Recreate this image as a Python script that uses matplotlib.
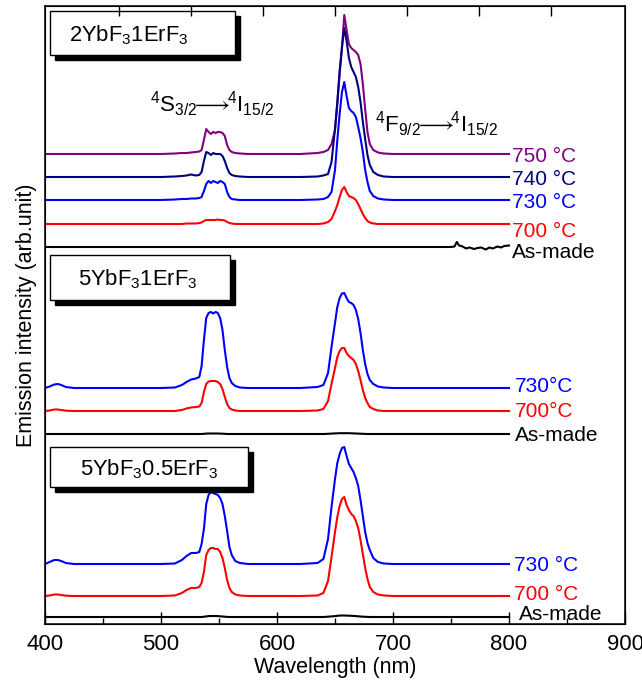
import matplotlib
matplotlib.use('Agg')
import matplotlib.pyplot as plt
from matplotlib.patches import Rectangle
from matplotlib.ticker import MultipleLocator

plt.rcParams['font.family'] = ['Liberation Sans', 'DejaVu Sans']
plt.rcParams['mathtext.fontset'] = 'custom'
plt.rcParams['mathtext.rm'] = 'Liberation Sans'
plt.rcParams['mathtext.it'] = 'Liberation Sans:italic'
plt.rcParams['mathtext.bf'] = 'Liberation Sans:bold'

# wavelength grid (nm) shared by the annealed spectra
wl = [400, 404, 408, 411, 414, 418, 425,
      500, 512, 518, 522, 526, 530, 533,
      535, 537, 539, 541, 543, 545, 547, 549, 551, 553, 555, 557, 559, 561,
      564, 568, 575, 620, 635, 640,
      644, 647, 650, 652, 654, 656, 658, 660, 662, 664, 666, 668, 670, 672, 674, 676, 678, 680,
      683, 687, 692, 700, 750, 800]

# ---- 2YbF3 1ErF3 ----
p1_750 = [0, 0, 0, 0, 0, 0, 0,
          0, 0.5, 1, 1, 1.5, 2, 2.5,
          4, 14, 25, 22, 20, 22, 21, 22, 22, 21, 18, 9, 4, 2,
          1, 0.5, 0, 0, 1, 2,
          4, 10, 24, 50, 80, 106, 139, 124, 110, 106, 104, 102, 99, 90, 70, 45, 22, 10,
          4, 1.5, 0.5, 0, 0, 0]
p1_740 = [0, 0, 0, 0, 0, 0, 0,
          0, 0.5, 1, 1.5, 2.5, 1.5, 2,
          5, 16, 25, 24, 22, 24, 23, 23, 23, 21, 16, 9, 4, 2,
          1, 0.5, 0, 0, 0.5, 1.5,
          3, 15, 48, 75, 106, 130, 149, 136, 119, 110, 105, 100, 90, 75, 55, 38, 22, 12,
          5, 2, 0.5, 0, 0, 0]
p1_730 = [0, 0, 0, 0, 0, 0, 0,
          0, 0.5, 1, 1, 1.5, 1.5, 2,
          3, 9, 16, 19, 17, 19, 18, 17, 19, 18, 16, 8, 3, 1,
          0.5, 0, 0, 0, 0.5, 1,
          3, 8, 30, 60, 86, 108, 118, 104, 92, 89, 87, 83, 73, 62, 48, 30, 18, 9,
          4, 1.5, 0.5, 0, 0, 0]
p1_700 = [0, 0, 0, 0, 0, 0, 0,
          0, 0, 0, 0.5, 0.5, 0.5, 1,
          1.5, 3, 4, 4, 4, 4, 4, 4.5, 4, 4, 3.5, 2, 1, 0.5,
          0, 0, 0, 0, 0, 0.5,
          2, 5, 13, 19, 27, 34, 37, 32, 28, 27, 26, 24, 20, 15, 10, 6, 3, 1.5,
          0.5, 0, 0, 0, 0, 0]
p1_asmade_wl = [400, 500, 600, 700, 750, 753, 755, 757, 760, 763, 766, 770,
                773, 776, 780, 783, 786, 790, 793, 796, 800]
p1_asmade = [0, 0, 0, 0, 0, 0.5, 5, 1.5, 0.5, -1.5, -0.5, -2,
             -1, -0.5, -2.5, -0.5, -1.5, 0.5, -0.5, 1, 1.5]

# ---- 5YbF3 1ErF3 ----
p2_730 = [0, 1.5, 3.5, 4, 3, 1, 0,
          0, 0.5, 3, 6, 8.5, 9.5, 11,
          22, 48, 70, 75, 76, 74.5, 76, 75, 70, 58, 38, 21, 10, 5,
          2, 0.5, 0, 0, 1, 3,
          15, 41, 65, 81, 90, 94.5, 95, 90, 86, 85, 83, 78, 69, 55, 38, 24, 14, 8,
          4, 1.5, 0.5, 0, 0, 0]
p2_700 = [0, 0.5, 1.5, 1.5, 1, 0.3, 0,
          0, 0, 1, 2.5, 3.5, 4, 4.5,
          8, 19, 27, 29.5, 30, 30, 30, 29, 27, 22, 14, 7, 3, 1.5,
          0.5, 0, 0, 0, 0.5, 2,
          10, 27, 43, 54, 60, 63, 63, 58, 55, 53, 51, 47, 40, 31, 21, 13, 8, 4,
          2, 0.5, 0, 0, 0, 0]
p2_asmade = [0, 0, 0, 0, 0, 0, 0,
             0, 0, 0, 0, 0, 0, 0,
             0, 0.2, 0.4, 0.5, 0.5, 0.5, 0.5, 0.5, 0.4, 0.3, 0.2, 0, 0, 0,
             0, 0, 0, 0, 0, 0,
             0.2, 0.4, 0.6, 0.7, 0.8, 0.8, 0.8, 0.8, 0.8, 0.7, 0.6, 0.5, 0.4, 0.3, 0.2, 0.1, 0, 0,
             0, 0, 0, 0, 0, 0]

# ---- 5YbF3 0.5ErF3 ----
p3_730 = [0, 2, 4, 4, 3, 1, 0,
          0, 0.5, 4, 8, 11, 11, 12,
          20, 35, 60, 69, 72, 71, 70, 69, 66, 60, 48, 33, 17, 9,
          3, 1, 0, 0, 1, 5,
          25, 57, 85, 101, 110, 116, 117, 108, 100, 96, 92, 86, 78, 64, 48, 32, 21, 14,
          6, 2, 0.5, 0, 0, 0]
p3_700 = [0, 0.5, 1.5, 1.5, 1, 0.3, 0,
          0, 0.5, 3, 6, 8, 8, 9,
          13, 24, 41, 46, 48, 48, 47, 47, 44, 38, 28, 16, 8, 4,
          1.5, 0.5, 0, 0, 0.5, 3,
          15, 39, 64, 79, 90, 97, 99, 91, 86, 82, 80, 75, 68, 56, 42, 28, 17, 9,
          4, 1.5, 0.5, 0, 0, 0]
p3_asmade = [0, 0, 0, 0, 0, 0, 0,
             0, 0, 0, 0, 0, 0, 0,
             0, 0.3, 0.6, 0.9, 1, 1, 1, 0.9, 0.7, 0.5, 0.3, 0.1, 0, 0,
             0, 0, 0, 0, 0, 0,
             0.3, 0.6, 0.9, 1.2, 1.4, 1.5, 1.5, 1.4, 1.3, 1.2, 1.1, 0.9, 0.7, 0.5, 0.3, 0.2, 0.1, 0,
             0, 0, 0, 0, 0, 0]

# stacking offsets (arb.)
offsets1 = [470, 447, 424, 400, 377]
offsets2 = [236, 213, 190]
offsets3 = [60, 28, 7]

labels1 = ['750 °C', '740 °C', '730 °C', '700 °C', 'As-made']
labels2 = ['730°C', '700°C', 'As-made']
labels3 = ['730 °C', '700 °C', 'As-made']

purple = '#800080'
navy = '#000080'
blue = '#0000FF'
red = '#FF0000'
black = '#000000'

fig = plt.figure(figsize=(6.42, 6.88), dpi=100)
ax = fig.add_axes([45/642, 64/688, 580/642, 618/688])

lw = 1.5
# panel 1
ax.plot(wl, [v + offsets1[0] for v in p1_750], color=purple, lw=lw)
ax.plot(wl, [v + offsets1[1] for v in p1_740], color=navy, lw=lw)
ax.plot(wl, [v + offsets1[2] for v in p1_730], color=blue, lw=lw)
ax.plot(wl, [v + offsets1[3] for v in p1_700], color=red, lw=lw)
ax.plot(p1_asmade_wl, [v + offsets1[4] for v in p1_asmade], color=black, lw=lw)
# panel 2
ax.plot(wl, [v + offsets2[0] for v in p2_730], color=blue, lw=lw)
ax.plot(wl, [v + offsets2[1] for v in p2_700], color=red, lw=lw)
ax.plot(wl, [v + offsets2[2] for v in p2_asmade], color=black, lw=lw)
# panel 3
ax.plot(wl, [v + offsets3[0] for v in p3_730], color=blue, lw=lw)
ax.plot(wl, [v + offsets3[1] for v in p3_700], color=red, lw=lw)
ax.plot(wl, [v + offsets3[2] for v in p3_asmade], color=black, lw=lw)

# temperature labels
fs = 15
lab_y1 = [462, 439, 416, 387, 366]
for t, yy, c in zip(labels1, lab_y1, [purple, navy, blue, red, black]):
    ax.text(802.8, yy, t, color=c, fontsize=fs, va='baseline', ha='left')
lab_y2 = [232, 207, 183]
for t, yy, c in zip(labels2, lab_y2, [blue, red, black]):
    ax.text(805.3, yy, t, color=c, fontsize=fs, va='baseline', ha='left')
lab_y3 = [53, 24, 4]
for t, yy, c, xx in zip(labels3, lab_y3, [blue, red, black], [804, 804, 808.8]):
    ax.text(xx, yy, t, color=c, fontsize=fs, va='baseline', ha='left')

# transition labels
fs_tr = 16
ax.text(490.4, 512, r'$^4\mathrm{S}_{3/2}\!\!\longrightarrow\!\!^4\mathrm{I}_{15/2}$', fontsize=fs_tr, va='baseline', ha='left')
ax.text(684.9, 492, r'$^4\mathrm{F}_{9/2}\!\!\longrightarrow\!\!^4\mathrm{I}_{15/2}$', fontsize=fs_tr, va='baseline', ha='left')

# sample name boxes with drop shadow
fs_box = 15.8
boxes = [(404.3, 569, 159.2, 44, 420.7, 583, r'2YbF$_3$1ErF$_3$'),
         (404.3, 324, 154.9, 45, 428.4, 339, r'5YbF$_3$1ErF$_3$'),
         (404.3, 137, 170.4, 40, 430.1, 149, r'5YbF$_3$0.5ErF$_3$')]
for x0, y0, w, h, tx, ty, s in boxes:
    ax.add_patch(Rectangle((x0 + 4.5, y0 - 5), w, h, facecolor='k', edgecolor='k', lw=1, zorder=5))
    ax.add_patch(Rectangle((x0, y0), w, h, facecolor='white', edgecolor='k', lw=1, zorder=6))
    ax.text(tx, ty, s, fontsize=fs_box, va='baseline', ha='left', zorder=7)

ax.set_xlim(400, 900)
ax.set_ylim(0, 618)
ax.set_yticks([])
ax.xaxis.set_major_locator(MultipleLocator(100))
ax.xaxis.set_minor_locator(MultipleLocator(50))
ax.tick_params(axis='x', which='major', direction='in', length=8.6, width=1, labelsize=16, pad=7)
ax.tick_params(axis='x', which='minor', direction='in', length=4.3, width=1)
ax.set_xlabel('Wavelength (nm)', fontsize=15.5, labelpad=2)
ax.set_ylabel('Emission intensity (arb.unit)', fontsize=15.5, labelpad=6)
for sp in ax.spines.values():
    sp.set_linewidth(1.1)

# unlabelled ticks on the top axis
top_ticks = [463.7, 525.6, 587.6, 650.4, 712.4, 774.4, 836.5]
ax2 = ax.twiny()
ax2.set_xlim(400, 900)
ax2.set_xticks(top_ticks)
ax2.tick_params(axis='x', direction='in', length=7, width=1, labeltop=False)

fig.savefig('out.png', dpi=100)
